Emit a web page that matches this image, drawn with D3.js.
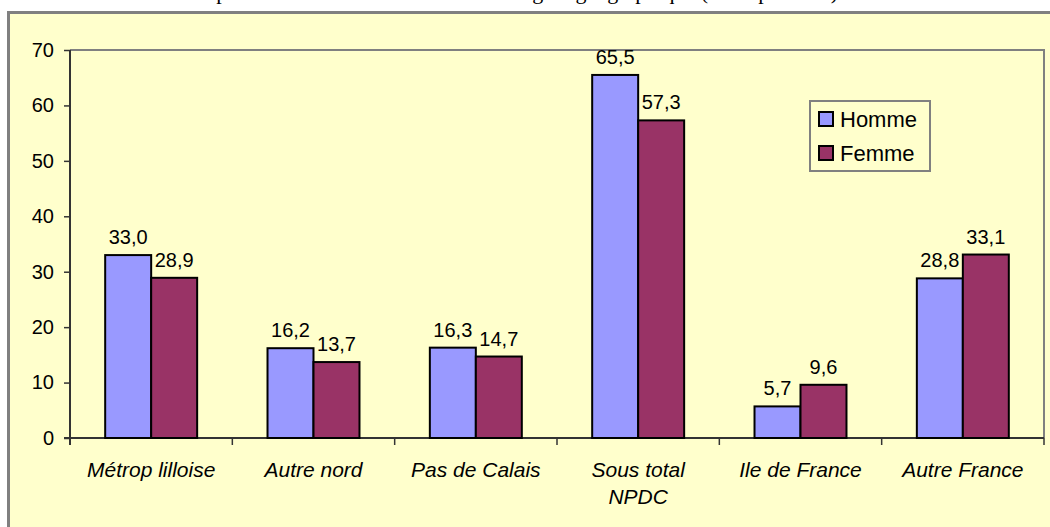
<!DOCTYPE html>
<html>
<head>
<meta charset="utf-8">
<script src="https://cdnjs.cloudflare.com/ajax/libs/d3/7.8.5/d3.min.js"></script>
<style>
  body { margin: 0; background: #fff; }
  svg { display: block; }
</style>
</head>
<body>
<div id="mycanvas"></div>
<script>
const width = 1050;
const height = 527;

const categories = [
  ["Métrop lilloise"],
  ["Autre nord"],
  ["Pas de Calais"],
  ["Sous total", "NPDC"],
  ["Ile de France"],
  ["Autre France"]
];
const seriesNames = ["Homme", "Femme"];
const homme = [33.0, 16.2, 16.3, 65.5, 5.7, 28.8];
const femme = [28.9, 13.7, 14.7, 57.3, 9.6, 33.1];
const yTicks = [0, 10, 20, 30, 40, 50, 60, 70];
const colors = ["#9999FF", "#993366"];

const title = "Répartition des étudiants selon leur origine géographique (en % par sexe)";

const plot = { left: 70, right: 1044, top: 50, bottom: 438 };
const font = "Liberation Sans, Arial, sans-serif";

const svg = d3
  .select("#mycanvas")
  .append("svg")
  .attr("width", width)
  .attr("height", height);

// title, cut off by the top of the picture as in the source
svg
  .append("text")
  .attr("x", 515)
  .attr("y", -1)
  .attr("text-anchor", "middle")
  .attr("font-family", "Liberation Serif, Times New Roman, serif")
  .attr("font-size", 22)
  .text(title);

// chart frame
svg
  .append("rect")
  .attr("x", 8.5)
  .attr("y", 12.5)
  .attr("width", 1100)
  .attr("height", 600)
  .attr("fill", "#FFFFCC")
  .attr("stroke", "#808080")
  .attr("stroke-width", 3);

const keys = categories.map((c) => c.join(" "));

const x = d3.scaleBand().domain(keys).range([plot.left, plot.right]).padding(0);
const xSub = d3
  .scaleBand()
  .domain(seriesNames)
  .range([0, x.bandwidth()])
  .paddingInner(0)
  .paddingOuter(0.765);
const y = d3.scaleLinear().domain([0, 70]).range([plot.bottom, plot.top]);

// plot area border (top, right)
svg
  .append("path")
  .attr("d", `M${plot.left},${plot.top}H${plot.right}V${plot.bottom}`)
  .attr("fill", "none")
  .attr("stroke", "#808080")
  .attr("stroke-width", 2);

// y axis
const yAxis = svg
  .append("g")
  .attr("transform", `translate(${plot.left},0)`)
  .call(d3.axisLeft(y).tickValues(yTicks).tickSize(6).tickSizeOuter(0).tickPadding(10));
yAxis.select(".domain").attr("stroke", "#333").attr("stroke-width", 2)
  .attr("d", `M0,${plot.top}V${plot.bottom + 7}`);
yAxis.selectAll(".tick line").attr("stroke", "#333").attr("stroke-width", 1.5);
yAxis.selectAll(".tick text")
  .attr("font-family", font)
  .attr("font-size", 20)
  .attr("fill", "#000");

// x axis line and boundary ticks
svg
  .append("line")
  .attr("x1", plot.left - 6)
  .attr("x2", plot.right)
  .attr("y1", plot.bottom)
  .attr("y2", plot.bottom)
  .attr("stroke", "#333")
  .attr("stroke-width", 2);

svg
  .append("g")
  .selectAll("line")
  .data(keys.slice(1).concat([null]))
  .join("line")
  .attr("x1", (d) => (d === null ? plot.right : x(d)))
  .attr("x2", (d) => (d === null ? plot.right : x(d)))
  .attr("y1", plot.bottom)
  .attr("y2", plot.bottom + 7)
  .attr("stroke", "#333")
  .attr("stroke-width", 1.5);

// category labels
const catLabels = svg
  .append("g")
  .selectAll("text")
  .data(categories)
  .join("text")
  .attr("x", (d, i) => x(keys[i]) + x.bandwidth() / 2)
  .attr("y", 477)
  .attr("text-anchor", "middle")
  .attr("font-family", font)
  .attr("font-size", 21)
  .attr("font-style", "italic")
  .attr("fill", "#000");
catLabels
  .selectAll("tspan")
  .data((d) => d)
  .join("tspan")
  .attr("x", function () {
    return d3.select(this.parentNode).attr("x");
  })
  .attr("dy", (d, i) => (i === 0 ? 0 : 27))
  .text((d) => d);

// bars
const rows = keys.map((k, i) => ({ key: k, values: [homme[i], femme[i]] }));

const groups = svg
  .append("g")
  .selectAll("g")
  .data(rows)
  .join("g")
  .attr("transform", (d) => `translate(${x(d.key)},0)`);

groups
  .selectAll("rect")
  .data((d) => d.values.map((v, j) => ({ name: seriesNames[j], value: v, j })))
  .join("rect")
  .attr("x", (d) => xSub(d.name))
  .attr("y", (d) => y(d.value))
  .attr("width", xSub.bandwidth())
  .attr("height", (d) => y(0) - y(d.value))
  .attr("fill", (d) => colors[d.j])
  .attr("stroke", "#000")
  .attr("stroke-width", 2);

groups
  .selectAll("text")
  .data((d) => d.values.map((v, j) => ({ name: seriesNames[j], value: v })))
  .join("text")
  .attr("x", (d) => xSub(d.name) + xSub.bandwidth() / 2)
  .attr("y", (d) => y(d.value) - 11)
  .attr("text-anchor", "middle")
  .attr("font-family", font)
  .attr("font-size", 20)
  .attr("fill", "#000")
  .text((d) => d3.format(".1f")(d.value).replace(".", ","));

// legend
const legend = svg.append("g").attr("transform", "translate(810,101)");
legend
  .append("rect")
  .attr("width", 120)
  .attr("height", 70)
  .attr("fill", "#FFFFCC")
  .attr("stroke", "#808080")
  .attr("stroke-width", 2);

const items = legend
  .selectAll("g")
  .data(seriesNames)
  .join("g")
  .attr("transform", (d, i) => `translate(8,${18 + i * 34})`);
items
  .append("rect")
  .attr("x", 1)
  .attr("y", -7)
  .attr("width", 14)
  .attr("height", 14)
  .attr("fill", (d, i) => colors[i])
  .attr("stroke", "#000")
  .attr("stroke-width", 2);
items
  .append("text")
  .attr("x", 22)
  .attr("y", 8)
  .attr("font-family", font)
  .attr("font-size", 22)
  .attr("fill", "#000")
  .text((d) => d);
</script>
</body>
</html>
